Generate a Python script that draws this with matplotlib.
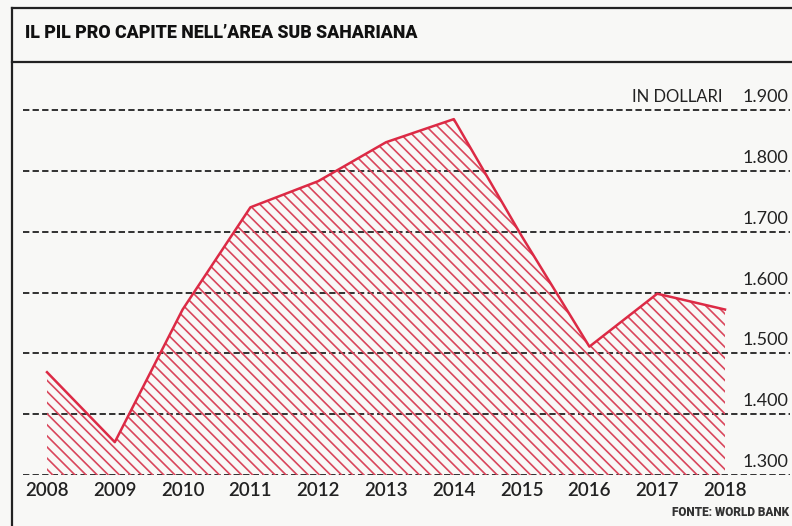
import numpy as np
import matplotlib.pyplot as plt
from matplotlib.lines import Line2D

# data
years = [2008, 2009, 2010, 2011, 2012, 2013, 2014, 2015, 2016, 2017, 2018]
pil = [1469, 1354, 1572, 1740, 1783, 1847, 1885, 1693, 1511, 1598, 1572]
y_ticks = [1300, 1400, 1500, 1600, 1700, 1800, 1900]
y_labels = ["1.300", "1.400", "1.500", "1.600", "1.700", "1.800", "1.900"]

W, H = 792, 526
fig = plt.figure(figsize=(W / 100, H / 100), dpi=100)
fig.patch.set_facecolor("#f8f8f6")
plt.rcParams["hatch.linewidth"] = 1.2

# axes placed in pixel coords
left, right, top, bottom = 23, 790, 90, 475
ax = fig.add_axes([left / W, 1 - bottom / H, (right - left) / W, (bottom - top) / H])
ax.set_facecolor("none")

px_year = (725 - 47) / 10
ax.set_xlim(2008 - (47 - left) / px_year, 2018 + (right - 725) / px_year)
px_100 = (475 - 110) / 6
ax.set_ylim(1300, 1300 + (bottom - top) / px_100 * 100)

for v in y_ticks:
    ax.axhline(v, color="#222222", lw=1.3, ls=(0, (3.5, 1.8)), zorder=1)

red = "#dc2a45"
ax.fill_between(years, pil, 1300, facecolor="none", edgecolor="#d9465c",
                hatch="\\\\\\", linewidth=0, zorder=2)
ax.plot(years, pil, color=red, lw=1.8, zorder=3)

for v, lab in zip(y_ticks, y_labels):
    ax.text(2018.6, v + 8, lab, ha="center", va="bottom", fontsize=13,
            family="Lato", color="#222222")
ax.text(2017.29, 1908, "IN DOLLARI", ha="center", va="bottom", fontsize=12,
        family="Lato", color="#222222")

ax.set_xticks(years)
ax.set_xticklabels([str(y) for y in years], fontsize=13.5, family="Lato",
                   fontweight="semibold", color="#222222")
ax.tick_params(axis="x", length=0, pad=5)
ax.set_yticks([])
for s in ax.spines.values():
    s.set_visible(False)

# frame and title
fig.add_artist(Line2D([12 / W, 12 / W], [0, 1 - 8 / H], transform=fig.transFigure, color="#222222", lw=1.6))
fig.add_artist(Line2D([12 / W, 1], [1 - 8 / H, 1 - 8 / H], transform=fig.transFigure, color="#222222", lw=1.6))
fig.add_artist(Line2D([12 / W, 1], [1 - 62 / H, 1 - 62 / H], transform=fig.transFigure, color="#222222", lw=1.6))

fig.text(25 / W, 1 - 33 / H, "IL PIL PRO CAPITE NELL\u2019AREA SUB SAHARIANA", fontsize=12.8,
         family="Roboto", fontweight="black", color="#111111", va="center", ha="left")
fig.text(789 / W, 1 - 512 / H, "FONTE: WORLD BANK", fontsize=8.5, family="Roboto",
         fontweight="black", color="#333333", va="center", ha="right")

fig.savefig("out.png", dpi=100, facecolor=fig.get_facecolor())
